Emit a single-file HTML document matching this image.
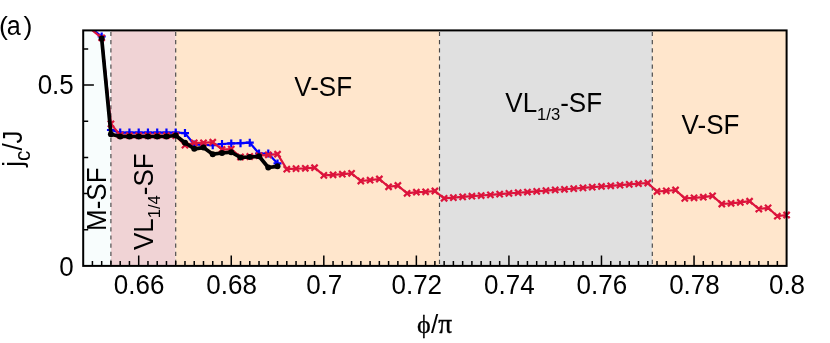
<!DOCTYPE html>
<html><head><meta charset="utf-8"><title>chart</title>
<style>
html,body{margin:0;padding:0;background:#fff;}
body{width:830px;height:343px;overflow:hidden;}
svg{display:block;}
text{font-family:"Liberation Sans",sans-serif;fill:#000;}
.s{font-family:"Liberation Serif",serif;}
</style></head><body>
<svg width="830" height="343" viewBox="0 0 830 343">
<rect x="0" y="0" width="830" height="343" fill="#ffffff"/>
<rect x="83.20" y="30.40" width="27.70" height="235.50" fill="#f8fdfd"/>
<rect x="110.90" y="30.40" width="64.80" height="235.50" fill="#f0d3d5"/>
<rect x="175.70" y="30.40" width="263.80" height="235.50" fill="#ffe6cc"/>
<rect x="439.50" y="30.40" width="212.80" height="235.50" fill="#e0e0e0"/>
<rect x="652.30" y="30.40" width="134.30" height="235.50" fill="#ffe6cc"/>
<line x1="110.90" y1="31.9" x2="110.90" y2="265.90" stroke="#484848" stroke-width="1.15" stroke-dasharray="4.2 3.94"/>
<line x1="175.70" y1="31.9" x2="175.70" y2="265.90" stroke="#484848" stroke-width="1.15" stroke-dasharray="4.2 3.94"/>
<line x1="439.50" y1="31.9" x2="439.50" y2="265.90" stroke="#484848" stroke-width="1.15" stroke-dasharray="4.2 3.94"/>
<line x1="652.30" y1="31.9" x2="652.30" y2="265.90" stroke="#484848" stroke-width="1.15" stroke-dasharray="4.2 3.94"/>
<g opacity="0.999">
<text transform="translate(294.30,95.70) scale(1.000,1.030)" font-size="26" text-anchor="start">V-SF</text>
<text transform="translate(681.60,133.60) scale(1.000,1.030)" font-size="26" text-anchor="start">V-SF</text>
<text transform="translate(505.30,112.00) scale(1.000,1.030)" font-size="26" text-anchor="start">VL<tspan font-size="16.6" dy="7.6">1/3</tspan><tspan dy="-7.6">-SF</tspan></text>
<text transform="translate(106.30,231.00) rotate(-90) scale(1.000,1.030)" font-size="26" text-anchor="start">M-SF</text>
<text transform="translate(152.50,250.00) rotate(-90) scale(1.000,1.030)" font-size="26" text-anchor="start">VL<tspan font-size="16.6" dy="7.6">1/4</tspan><tspan dy="-7.6">-SF</tspan></text>
</g>
<defs><clipPath id="cp"><rect x="83.20" y="30.40" width="723.40" height="235.50"/></clipPath></defs>
<g clip-path="url(#cp)">
<polyline points="94.02,30.50 101.68,36.50 110.93,130.00 120.19,132.60 129.44,132.60 138.70,132.60 147.95,132.60 157.21,132.60 166.47,132.60 175.72,132.50 184.98,133.10 194.23,144.50 203.49,145.00 212.74,145.20 222.00,144.00 231.26,143.40 240.51,143.20 249.77,142.70 259.02,153.50 268.28,153.50 277.53,163.40" fill="none" stroke="#0000ff" stroke-width="2.2" stroke-linejoin="round"/>
<path d="M97.68 36.50H105.68M101.68 32.50V40.50M106.93 130.00H114.93M110.93 126.00V134.00M116.19 132.60H124.19M120.19 128.60V136.60M125.44 132.60H133.44M129.44 128.60V136.60M134.70 132.60H142.70M138.70 128.60V136.60M143.95 132.60H151.95M147.95 128.60V136.60M153.21 132.60H161.21M157.21 128.60V136.60M162.47 132.60H170.47M166.47 128.60V136.60M171.72 132.50H179.72M175.72 128.50V136.50M180.98 133.10H188.98M184.98 129.10V137.10M190.23 144.50H198.23M194.23 140.50V148.50M199.49 145.00H207.49M203.49 141.00V149.00M208.74 145.20H216.74M212.74 141.20V149.20M218.00 144.00H226.00M222.00 140.00V148.00M227.26 143.40H235.26M231.26 139.40V147.40M236.51 143.20H244.51M240.51 139.20V147.20M245.77 142.70H253.77M249.77 138.70V146.70M255.02 153.50H263.02M259.02 149.50V157.50M264.28 153.50H272.28M268.28 149.50V157.50M273.53 163.40H281.53M277.53 159.40V167.40" stroke="#0000ff" stroke-width="2.2" fill="none"/>
<polyline points="92.42,30.50 101.68,37.80 110.93,123.90 120.19,135.10 129.44,135.70 138.70,135.70 147.95,135.70 157.21,135.70 166.47,135.70 175.72,135.70 184.98,145.20 194.23,142.80 203.49,142.80 212.74,142.20 222.00,149.50 231.26,149.10 240.51,157.00 249.77,156.50 259.02,155.70 268.28,154.80 277.53,154.20 286.79,169.20 296.05,168.60 305.30,168.30 314.56,167.70 323.81,175.40 333.07,174.80 342.32,174.20 351.58,173.30 360.84,181.00 370.09,180.20 379.35,179.00 388.60,186.80 397.86,185.50 407.11,193.30 416.37,192.20 425.63,191.80 434.88,191.00 444.14,198.30 453.39,197.60 462.65,196.91 471.90,196.21 481.16,195.52 490.42,194.82 499.67,194.13 508.93,193.43 518.18,192.74 527.44,192.04 536.69,191.35 545.95,190.65 555.20,189.95 564.46,189.26 573.72,188.56 582.97,187.87 592.23,187.17 601.48,186.48 610.74,185.78 619.99,185.09 629.25,184.39 638.51,183.70 647.76,183.00 657.02,191.50 666.27,190.80 675.53,190.00 684.78,198.40 694.04,197.80 703.30,197.20 712.55,195.90 721.81,204.00 731.06,203.30 740.32,202.40 749.57,201.20 758.83,209.00 768.09,207.80 777.34,216.20 786.60,215.00" fill="none" stroke="#dc143c" stroke-width="2.2" stroke-linejoin="round"/>
<path d="M98.58 34.70L104.78 40.90M98.58 40.90L104.78 34.70M107.83 120.80L114.03 127.00M107.83 127.00L114.03 120.80M117.09 132.00L123.29 138.20M117.09 138.20L123.29 132.00M126.34 132.60L132.54 138.80M126.34 138.80L132.54 132.60M135.60 132.60L141.80 138.80M135.60 138.80L141.80 132.60M144.85 132.60L151.05 138.80M144.85 138.80L151.05 132.60M154.11 132.60L160.31 138.80M154.11 138.80L160.31 132.60M163.37 132.60L169.57 138.80M163.37 138.80L169.57 132.60M172.62 132.60L178.82 138.80M172.62 138.80L178.82 132.60M181.88 142.10L188.08 148.30M181.88 148.30L188.08 142.10M191.13 139.70L197.33 145.90M191.13 145.90L197.33 139.70M200.39 139.70L206.59 145.90M200.39 145.90L206.59 139.70M209.64 139.10L215.84 145.30M209.64 145.30L215.84 139.10M218.90 146.40L225.10 152.60M218.90 152.60L225.10 146.40M228.16 146.00L234.36 152.20M228.16 152.20L234.36 146.00M237.41 153.90L243.61 160.10M237.41 160.10L243.61 153.90M246.67 153.40L252.87 159.60M246.67 159.60L252.87 153.40M255.92 152.60L262.12 158.80M255.92 158.80L262.12 152.60M265.18 151.70L271.38 157.90M265.18 157.90L271.38 151.70M274.43 151.10L280.63 157.30M274.43 157.30L280.63 151.10M283.69 166.10L289.89 172.30M283.69 172.30L289.89 166.10M292.95 165.50L299.15 171.70M292.95 171.70L299.15 165.50M302.20 165.20L308.40 171.40M302.20 171.40L308.40 165.20M311.46 164.60L317.66 170.80M311.46 170.80L317.66 164.60M320.71 172.30L326.91 178.50M320.71 178.50L326.91 172.30M329.97 171.70L336.17 177.90M329.97 177.90L336.17 171.70M339.22 171.10L345.42 177.30M339.22 177.30L345.42 171.10M348.48 170.20L354.68 176.40M348.48 176.40L354.68 170.20M357.74 177.90L363.94 184.10M357.74 184.10L363.94 177.90M366.99 177.10L373.19 183.30M366.99 183.30L373.19 177.10M376.25 175.90L382.45 182.10M376.25 182.10L382.45 175.90M385.50 183.70L391.70 189.90M385.50 189.90L391.70 183.70M394.76 182.40L400.96 188.60M394.76 188.60L400.96 182.40M404.01 190.20L410.21 196.40M404.01 196.40L410.21 190.20M413.27 189.10L419.47 195.30M413.27 195.30L419.47 189.10M422.53 188.70L428.73 194.90M422.53 194.90L428.73 188.70M431.78 187.90L437.98 194.10M431.78 194.10L437.98 187.90M441.04 195.20L447.24 201.40M441.04 201.40L447.24 195.20M450.29 194.50L456.49 200.70M450.29 200.70L456.49 194.50M459.55 193.81L465.75 200.01M459.55 200.01L465.75 193.81M468.80 193.11L475.00 199.31M468.80 199.31L475.00 193.11M478.06 192.42L484.26 198.62M478.06 198.62L484.26 192.42M487.32 191.72L493.52 197.92M487.32 197.92L493.52 191.72M496.57 191.03L502.77 197.23M496.57 197.23L502.77 191.03M505.83 190.33L512.03 196.53M505.83 196.53L512.03 190.33M515.08 189.64L521.28 195.84M515.08 195.84L521.28 189.64M524.34 188.94L530.54 195.14M524.34 195.14L530.54 188.94M533.59 188.25L539.79 194.45M533.59 194.45L539.79 188.25M542.85 187.55L549.05 193.75M542.85 193.75L549.05 187.55M552.10 186.85L558.30 193.05M552.10 193.05L558.30 186.85M561.36 186.16L567.56 192.36M561.36 192.36L567.56 186.16M570.62 185.46L576.82 191.66M570.62 191.66L576.82 185.46M579.87 184.77L586.07 190.97M579.87 190.97L586.07 184.77M589.13 184.07L595.33 190.27M589.13 190.27L595.33 184.07M598.38 183.38L604.58 189.58M598.38 189.58L604.58 183.38M607.64 182.68L613.84 188.88M607.64 188.88L613.84 182.68M616.89 181.99L623.09 188.19M616.89 188.19L623.09 181.99M626.15 181.29L632.35 187.49M626.15 187.49L632.35 181.29M635.41 180.60L641.61 186.80M635.41 186.80L641.61 180.60M644.66 179.90L650.86 186.10M644.66 186.10L650.86 179.90M653.92 188.40L660.12 194.60M653.92 194.60L660.12 188.40M663.17 187.70L669.37 193.90M663.17 193.90L669.37 187.70M672.43 186.90L678.63 193.10M672.43 193.10L678.63 186.90M681.68 195.30L687.88 201.50M681.68 201.50L687.88 195.30M690.94 194.70L697.14 200.90M690.94 200.90L697.14 194.70M700.20 194.10L706.40 200.30M700.20 200.30L706.40 194.10M709.45 192.80L715.65 199.00M709.45 199.00L715.65 192.80M718.71 200.90L724.91 207.10M718.71 207.10L724.91 200.90M727.96 200.20L734.16 206.40M727.96 206.40L734.16 200.20M737.22 199.30L743.42 205.50M737.22 205.50L743.42 199.30M746.47 198.10L752.67 204.30M746.47 204.30L752.67 198.10M755.73 205.90L761.93 212.10M755.73 212.10L761.93 205.90M764.99 204.70L771.19 210.90M764.99 210.90L771.19 204.70M774.24 213.10L780.44 219.30M774.24 219.30L780.44 213.10M783.50 211.90L789.70 218.10M783.50 218.10L789.70 211.90" stroke="#dc143c" stroke-width="2.2" fill="none"/>
<polyline points="101.68,38.50 110.93,134.20 120.19,136.50 129.44,136.50 138.70,136.50 147.95,136.50 157.21,136.50 166.47,136.50 175.72,135.50 184.98,142.80 194.23,148.80 203.49,147.60 212.74,154.20 222.00,153.00 231.26,152.20 240.51,157.50 249.77,157.00 259.02,156.30 268.28,167.50 277.53,166.30" fill="none" stroke="#000" stroke-width="3.7" stroke-linejoin="round" stroke-linecap="round"/>
<circle cx="101.68" cy="38.50" r="3.0" fill="#000"/>
<circle cx="110.93" cy="134.20" r="3.0" fill="#000"/>
<circle cx="120.19" cy="136.50" r="3.0" fill="#000"/>
<circle cx="129.44" cy="136.50" r="3.0" fill="#000"/>
<circle cx="138.70" cy="136.50" r="3.0" fill="#000"/>
<circle cx="147.95" cy="136.50" r="3.0" fill="#000"/>
<circle cx="157.21" cy="136.50" r="3.0" fill="#000"/>
<circle cx="166.47" cy="136.50" r="3.0" fill="#000"/>
<circle cx="175.72" cy="135.50" r="3.0" fill="#000"/>
<circle cx="184.98" cy="142.80" r="3.0" fill="#000"/>
<circle cx="194.23" cy="148.80" r="3.0" fill="#000"/>
<circle cx="203.49" cy="147.60" r="3.0" fill="#000"/>
<circle cx="212.74" cy="154.20" r="3.0" fill="#000"/>
<circle cx="222.00" cy="153.00" r="3.0" fill="#000"/>
<circle cx="231.26" cy="152.20" r="3.0" fill="#000"/>
<circle cx="240.51" cy="157.50" r="3.0" fill="#000"/>
<circle cx="249.77" cy="157.00" r="3.0" fill="#000"/>
<circle cx="259.02" cy="156.30" r="3.0" fill="#000"/>
<circle cx="268.28" cy="167.50" r="3.0" fill="#000"/>
<circle cx="277.53" cy="166.30" r="3.0" fill="#000"/>
</g>
<path d="M92.42 265.90V261.00M101.68 265.90V261.00M110.93 265.90V261.00M120.19 265.90V261.00M129.44 265.90V261.00M138.70 265.90V255.50M147.96 265.90V261.00M157.21 265.90V261.00M166.47 265.90V261.00M175.72 265.90V261.00M184.98 265.90V261.00M194.23 265.90V261.00M203.49 265.90V261.00M212.75 265.90V261.00M222.00 265.90V261.00M231.26 265.90V255.50M240.51 265.90V261.00M249.77 265.90V261.00M259.02 265.90V261.00M268.28 265.90V261.00M277.54 265.90V261.00M286.79 265.90V261.00M296.05 265.90V261.00M305.30 265.90V261.00M314.56 265.90V261.00M323.81 265.90V255.50M333.07 265.90V261.00M342.33 265.90V261.00M351.58 265.90V261.00M360.84 265.90V261.00M370.09 265.90V261.00M379.35 265.90V261.00M388.60 265.90V261.00M397.86 265.90V261.00M407.12 265.90V261.00M416.37 265.90V255.50M425.63 265.90V261.00M434.88 265.90V261.00M444.14 265.90V261.00M453.39 265.90V261.00M462.65 265.90V261.00M471.91 265.90V261.00M481.16 265.90V261.00M490.42 265.90V261.00M499.67 265.90V261.00M508.93 265.90V255.50M518.18 265.90V261.00M527.44 265.90V261.00M536.70 265.90V261.00M545.95 265.90V261.00M555.21 265.90V261.00M564.46 265.90V261.00M573.72 265.90V261.00M582.97 265.90V261.00M592.23 265.90V261.00M601.48 265.90V255.50M610.74 265.90V261.00M620.00 265.90V261.00M629.25 265.90V261.00M638.51 265.90V261.00M647.76 265.90V261.00M657.02 265.90V261.00M666.27 265.90V261.00M675.53 265.90V261.00M684.79 265.90V261.00M694.04 265.90V255.50M703.30 265.90V261.00M712.55 265.90V261.00M721.81 265.90V261.00M731.06 265.90V261.00M740.32 265.90V261.00M749.58 265.90V261.00M758.83 265.90V261.00M768.09 265.90V261.00M777.34 265.90V261.00M83.20 229.74H88.20M83.20 193.58H88.20M83.20 157.42H88.20M83.20 121.26H88.20M83.20 85.10H93.90M83.20 48.94H88.20" stroke="#000" stroke-width="1.5" fill="none"/>
<rect x="83.20" y="30.40" width="703.40" height="235.50" fill="none" stroke="#000" stroke-width="2"/>
<g opacity="0.999">
<text transform="translate(139.10,293.70) scale(1.000,1.030)" font-size="26" text-anchor="middle">0.66</text>
<text transform="translate(231.66,293.70) scale(1.000,1.030)" font-size="26" text-anchor="middle">0.68</text>
<text transform="translate(324.21,293.70) scale(1.000,1.030)" font-size="26" text-anchor="middle">0.7</text>
<text transform="translate(416.77,293.70) scale(1.000,1.030)" font-size="26" text-anchor="middle">0.72</text>
<text transform="translate(509.33,293.70) scale(1.000,1.030)" font-size="26" text-anchor="middle">0.74</text>
<text transform="translate(601.88,293.70) scale(1.000,1.030)" font-size="26" text-anchor="middle">0.76</text>
<text transform="translate(694.44,293.70) scale(1.000,1.030)" font-size="26" text-anchor="middle">0.78</text>
<text transform="translate(787.00,293.70) scale(1.000,1.030)" font-size="26" text-anchor="middle">0.8</text>
<text transform="translate(73.80,94.00) scale(1.000,1.030)" font-size="26" text-anchor="end">0.5</text>
<text transform="translate(73.80,275.50) scale(1.000,1.030)" font-size="26" text-anchor="end">0</text>
<text transform="translate(-0.95,34.80) scale(1.000,1.000)" font-size="26.7" text-anchor="start">(</text>
<text transform="translate(6.80,34.60) scale(0.930,0.990)" font-size="27" text-anchor="start">a</text>
<text transform="translate(23.60,34.80) scale(1.000,1.000)" font-size="26.7" text-anchor="start">)</text>
<text transform="translate(21.80,166.80) rotate(-90) scale(1.000,1.030)" font-size="26" text-anchor="start">j<tspan font-size="20.8" dy="7.8">c</tspan><tspan dy="-7.8">/J</tspan></text>
<text x="417.0" y="333.4" font-size="26" class="s" stroke="#000" stroke-width="0.3">&#x3d5;</text>
<text x="431.1" y="333.3" font-size="26">/</text>
<text x="438.2" y="333.3" font-size="27.5" class="s" stroke="#000" stroke-width="0.35">&#x3c0;</text>
</g>
</svg></body></html>
